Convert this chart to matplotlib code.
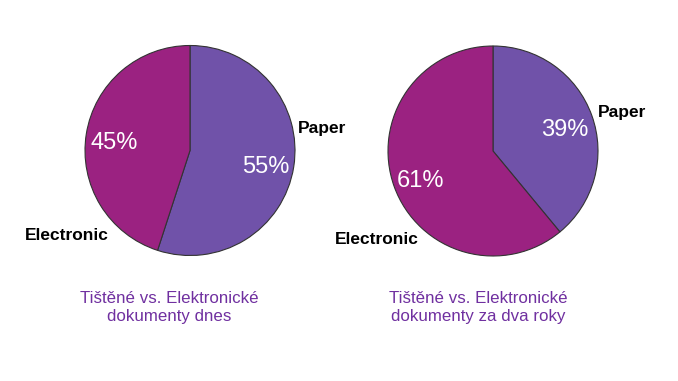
import matplotlib
matplotlib.use("Agg")
import matplotlib.pyplot as plt

plt.rcParams['font.family'] = ['Liberation Sans', 'DejaVu Sans']

# data
categories = ["Paper", "Electronic"]
share_today = [55, 45]
share_two_years = [39, 61]
titles = ["Tištěné vs. Elektronické\ndokumenty dnes",
          "Tištěné vs. Elektronické\ndokumenty za dva roky"]

paper_color = "#7052A9"
electronic_color = "#9B2281"
title_color = "#7030A0"

W, H = 678, 381
fig = plt.figure(figsize=(W / 100, H / 100), dpi=100)

R = 105      # pie radius in px
half = 110   # half-size of the axes box in px


def make_ax(cx, cy):
    ax = fig.add_axes([(cx - half) / W, (H - cy - half) / H, 2 * half / W, 2 * half / H])
    return ax


def draw_pie(ax, values, label_pos):
    wedges, texts, autotexts = ax.pie(
        values, colors=[paper_color, electronic_color], startangle=90,
        counterclock=False, autopct='%.0f%%', pctdistance=0.73,
        wedgeprops=dict(edgecolor='#333333', linewidth=0.8),
        textprops=dict(color='white', fontsize=17))
    # nudge percentages down a little to match the reference
    for t in autotexts:
        x, y = t.get_position()
        t.set_position((x, y - 4.5 / R))
    lim = half / R
    ax.set_xlim(-lim, lim)
    ax.set_ylim(-lim, lim)
    ax.set_aspect('equal')
    ax.axis('off')
    for name, (x, y) in zip(categories, label_pos):
        ax.text(x, y, name, ha='center', va='center', fontsize=12.5,
                fontweight='bold', color='black', clip_on=False)


ax1 = make_ax(190, 150.5)
draw_pie(ax1, share_today, [(1.26, 0.21), (-1.17, -0.81)])

ax2 = make_ax(493, 151)
draw_pie(ax2, share_two_years, [(1.23, 0.37), (-1.11, -0.84)])

fig.text(169 / W, 1 - 307.5 / H, titles[0], ha='center', va='center',
         fontsize=12.2, color=title_color, linespacing=1.3)
fig.text(478 / W, 1 - 307.5 / H, titles[1], ha='center', va='center',
         fontsize=12.2, color=title_color, linespacing=1.3)

fig.savefig("out.png", dpi=100, facecolor='white')
